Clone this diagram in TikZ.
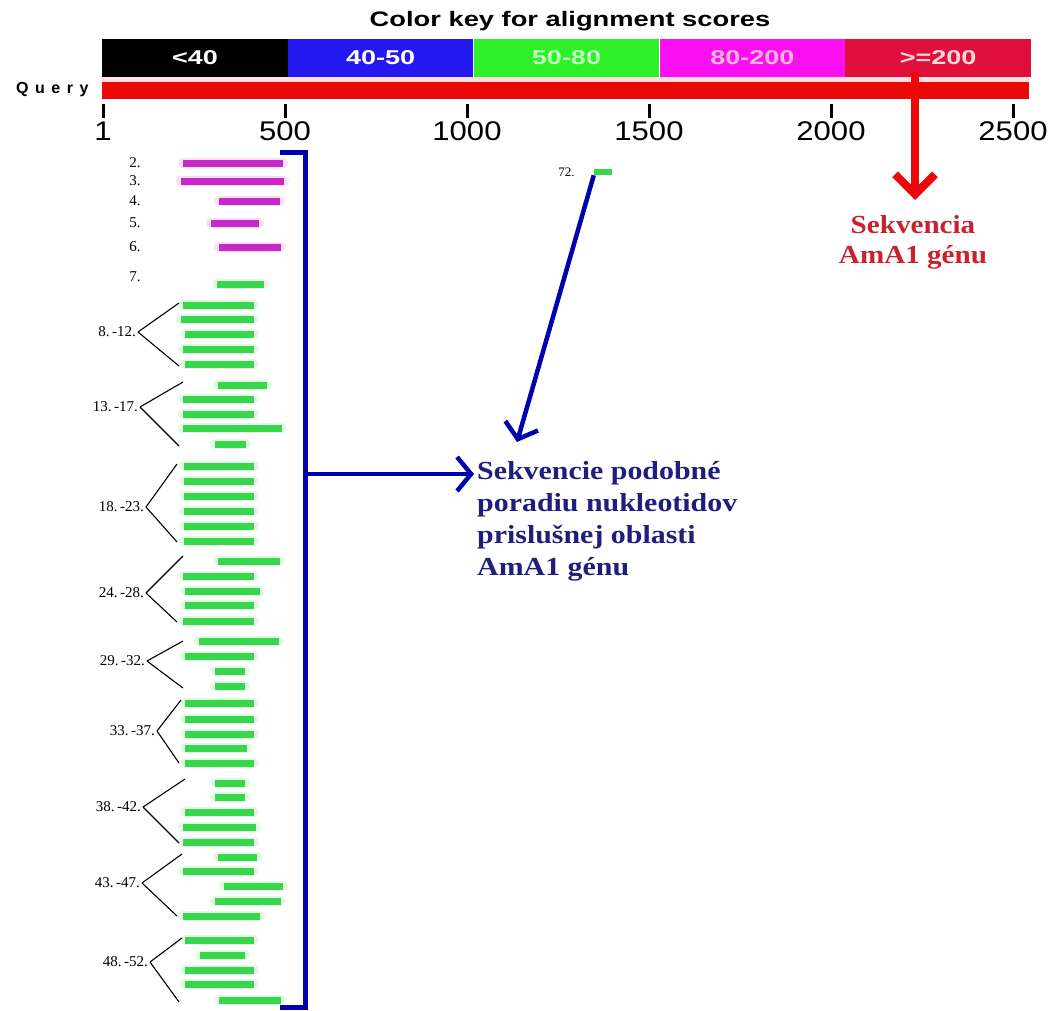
\documentclass[tikz,border=0pt]{standalone}
\usepackage{fontspec}
\setmainfont{Liberation Serif}
\setsansfont{Liberation Sans}
\usetikzlibrary{arrows.meta,positioning}

\definecolor{keyblue}{RGB}{35,25,240}
\definecolor{keygreen}{RGB}{45,240,40}
\definecolor{keymag}{RGB}{250,15,240}
\definecolor{keyred}{RGB}{225,15,60}
\definecolor{queryred}{RGB}{235,8,8}
\definecolor{hitgreen}{RGB}{55,215,75}
\definecolor{hitmag}{RGB}{200,40,200}
\definecolor{navy}{RGB}{0,0,175}
\definecolor{navytext}{RGB}{30,30,125}
\definecolor{genered}{RGB}{200,35,45}
\newcommand{\wide}[2][1.15]{\scalebox{#1}[1]{#2}}

\tikzset{
	keyseg/.style={minimum width=185.4pt, minimum height=38pt, inner sep=0pt, anchor=west,
		font=\fontsize{20}{24}\selectfont\sffamily\bfseries},
	greenhit/.style={draw=hitgreen, line width=7pt,
		preaction={draw=hitgreen!14, line width=10pt, line cap=round}},
	maghit/.style={draw=hitmag, line width=7pt,
		preaction={draw=hitmag!14, line width=10pt, line cap=round}},
	hitlabel/.style={font=\fontsize{15}{17}\selectfont, inner sep=1pt},
	grplabel/.style={anchor=east, inner sep=2pt, font=\fontsize{15}{17}\selectfont},
	redarrow/.style={draw=queryred, line width=8pt, -{Straight Barb[length=20pt,width=40pt]}},
	bluearrow/.style={draw=navy, line width=4.5pt, -{Straight Barb[length=14pt,width=34pt]}},
	genetext/.style={text=genered, font=\fontsize{26}{30}\selectfont\bfseries, align=center, inner sep=0pt},
	simtext/.style={text=navytext, font=\fontsize{26}{32}\selectfont\bfseries, align=left, inner sep=0pt}
}

\begin{document}
\begin{tikzpicture}[x=1pt,y=-1pt]
		\useasboundingbox (0,0) rectangle (1050,1010);
		\fill[white] (0,0) rectangle (1050,1010);
		\node[font=\fontsize{21}{24}\selectfont\sffamily\bfseries] (title) at (570,21) {\wide[1.3]{Color key for alignment scores}};
		% colour key
		\node[keyseg, fill=black, text=white] (k1) at (102,58) {\wide[1.35]{<40}};
		\node[keyseg, fill=keyblue, text=white, right=0pt of k1] (k2) {\wide[1.35]{40-50}};
		\node[keyseg, fill=keygreen, text=green!25!white, right=0pt of k2] (k3) {\wide[1.35]{50-80}};
		\node[keyseg, fill=keymag, text=magenta!30!white, right=0pt of k3] (k4) {\wide[1.35]{80-200}};
		\node[keyseg, fill=keyred, text=red!15!white, right=0pt of k4] (k5) {\wide[1.35]{>=200}};
		\fill[red!12!white] (102,77) rectangle (1029,82);
		\node[fill=queryred, minimum width=927pt, minimum height=17pt, inner sep=0pt, anchor=north west] (query) at (102,82) {};
		\node[anchor=east, font=\fontsize{16}{18}\selectfont\sffamily\bfseries] (qlabel) at (92,90) {Q\kern6.5pt u\kern6.5pt e\kern6.5pt r\kern6.5pt y};
		\foreach \v [count=\i from 0] in {1,500,1000,1500,2000,2500} {
			\draw[line width=3pt] (103+182*\i,104) -- ++(0,14);
			\node[font=\fontsize{27}{30}\selectfont\sffamily] (t\i) at (103+182*\i,131) {\wide{\v}};
		}
		% hits
		\foreach \a/\b/\y in {183/283/163,181/284/181,219/280/201,211/259/223,219/281/247}
			\draw[maghit] (\a,\y) -- (\b,\y);
		\foreach \a/\b/\y in {217/264/284,
			183/254/305,181/254/319,185/254/334,183/254/349,185/254/364,
			218/267/385,183/254/399,183/254/414,183/282/428,215/246/444,
			184/254/466,184/254/481,184/254/496,184/254/511,184/254/526,184/254/541,
			218/280/561,183/254/576,185/260/591,185/254/605,183/254/621,
			199/279/641,185/254/656,215/245/671,215/245/686,
			185/254/703,185/254/719,185/254/734,185/247/748,185/254/763,
			215/245/783,215/245/797,185/254/812,183/256/827,183/254/842,
			218/257/857,183/254/871,224/283/886,215/281/901,183/260/916,
			185/254/940,200/245/955,185/254/970,185/254/984,219/281/1000}
			\draw[greenhit] (\a,\y) -- (\b,\y);
		\foreach \n/\y in {2/163,3/181,4/201,5/223,6/247,7/277}
			\node[hitlabel] (n\n) at (135,\y) {\n.};
		\foreach \gname/\gtext/\ax/\ay/\tx/\ty/\bx/\by in {
			g8/{8.\,-12.}/138/332/179/303/179/366,
			g13/{13.\,-17.}/140/407/183/382/179/446,
			g18/{18.\,-23.}/146/507/177/464/177/542,
			g24/{24.\,-28.}/146/593/183/556/177/622,
			g29/{29.\,-32.}/147/661/183/641/183/688,
			g33/{33.\,-37.}/157/731/181/700/179/763,
			g38/{38.\,-42.}/143/807/185/779/179/843,
			g43/{43.\,-47.}/142/883/182/854/177/916,
			g48/{48.\,-52.}/150/962/182/938/179/1002} {
			\node[grplabel] (\gname) at (\ax,\ay) {\gtext};
			\draw[line width=1.1pt] (\gname.east) -- (\tx,\ty);
			\draw[line width=1.1pt] (\gname.east) -- (\bx,\by);
		}
		\node[fill=hitgreen, minimum width=18pt, minimum height=6pt, inner sep=0pt] (h72) at (603,172) {};
		\node[hitlabel, font=\fontsize{13}{15}\selectfont, left=18pt of h72] (n72) {72.};
		% arrows and notes
		\coordinate (redtop) at (915,72);
		\node[genetext, anchor=north] (gene) at (913,215) {\wide[1.12]{Sekvencia}\\\wide[1.12]{AmA1 génu}};
		\draw[redarrow, shorten >=15pt] (redtop) -- (gene.north -| redtop);
		\coordinate (brtop) at (280,152);
		\coordinate (brbot) at (280,1007);
		\coordinate (brmid) at (305,474);
		\draw[draw=navy, line width=5pt] (brtop) -- (305,152) -- (305,1007) -- (brbot);
		\node[simtext, anchor=north west] (sim) at (477,461) {\wide{Sekvencie podobné}\\\wide{poradiu nukleotidov}\\\wide{prislušnej oblasti}\\\wide{AmA1 génu}};
		\draw[bluearrow, shorten >=3pt] (brmid) -- (brmid -| sim.west);
		\coordinate (tip72) at (517,442);
		\draw[bluearrow] (h72.south west) -- (tip72);
	\end{tikzpicture}
\end{document}
